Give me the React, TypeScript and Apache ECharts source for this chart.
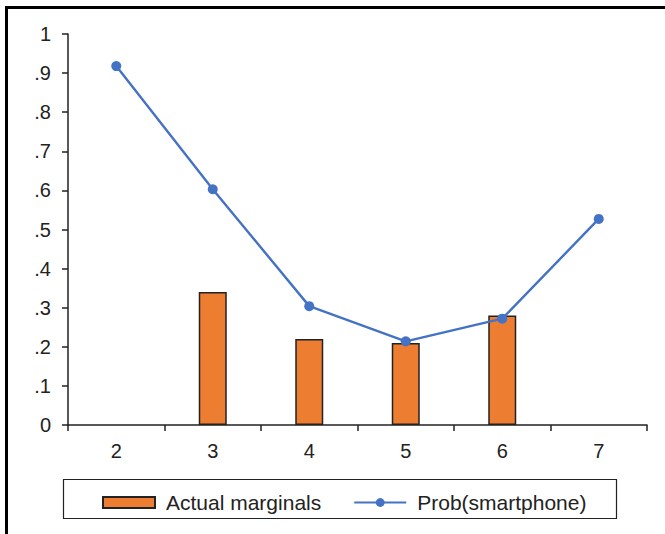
import React, { useEffect, useRef } from "react";
import * as echarts from "echarts";

const categories = ["2", "3", "4", "5", "6", "7"];
const actualMarginals: (number | null)[] = [null, 0.34, 0.22, 0.21, 0.28, null];
const probSmartphone = [0.918, 0.603, 0.304, 0.214, 0.272, 0.527];
const yTickLabels = ["0", ".1", ".2", ".3", ".4", ".5", ".6", ".7", ".8", ".9", "1"];

export default function App() {
  const ref = useRef<HTMLDivElement>(null);
  useEffect(() => {
    if (!ref.current) return;
    const chart = echarts.init(ref.current, undefined, { renderer: "svg" });
    const font = "'Liberation Sans', Arial, sans-serif";
    chart.setOption({
      animation: false,
      backgroundColor: "#fff",
      grid: { left: 68, right: 18, top: 34, bottom: 109, containLabel: false },
      xAxis: {
        type: "category",
        data: categories,
        boundaryGap: true,
        axisLine: { lineStyle: { color: "#222", width: 1.5 } },
        axisTick: { show: true, alignWithLabel: false, length: 6, lineStyle: { color: "#222", width: 1.5 } },
        axisLabel: { color: "#222", fontSize: 20, fontFamily: font, margin: 16 },
      },
      yAxis: {
        type: "value",
        min: 0,
        max: 1,
        interval: 0.1,
        splitLine: { show: false },
        axisLine: { show: true, lineStyle: { color: "#222", width: 1.5 } },
        axisTick: { show: true, length: 6, lineStyle: { color: "#222", width: 1.5 } },
        axisLabel: {
          color: "#222",
          fontSize: 20,
          fontFamily: font,
          margin: 17,
          formatter: (v: number) => yTickLabels[Math.round(v * 10)] ?? "",
        },
      },
      legend: {
        left: 97,
        top: 487,
        padding: 5,
        itemGap: 32,
        itemWidth: 52,
        itemHeight: 11,
        textStyle: { color: "#222", fontSize: 21, fontFamily: font, padding: [0, 0, 0, 6] },
        data: [
          { name: "Actual marginals", icon: "rect" },
          { name: "Prob(smartphone)" },
        ],
      },
      graphic: [
        {
          type: "rect",
          shape: { x: 63.5, y: 479.5, width: 553, height: 39 },
          style: { fill: "none", stroke: "#222", lineWidth: 1.2 },
          z: -1,
        },
        {
          type: "line",
          shape: { x1: 5, y1: 7.5, x2: 665, y2: 7.5 },
          style: { stroke: "#000", lineWidth: 3 },
        },
        {
          type: "line",
          shape: { x1: 6.5, y1: 6, x2: 6.5, y2: 534 },
          style: { stroke: "#000", lineWidth: 3 },
        },
      ],
      series: [
        {
          name: "Actual marginals",
          type: "bar",
          data: actualMarginals,
          barWidth: 28,
          itemStyle: { color: "#ED7D31", borderColor: "#222", borderWidth: 1.5 },
        },
        {
          name: "Prob(smartphone)",
          type: "line",
          data: probSmartphone,
          symbol: "circle",
          symbolSize: 10,
          lineStyle: { color: "#4472C4", width: 2.4 },
          itemStyle: { color: "#4472C4" },
        },
      ],
    });
    return () => chart.dispose();
  }, []);
  return <div ref={ref} style={{ width: 665, height: 534, position: "absolute", left: 0, top: 0 }} />;
}
